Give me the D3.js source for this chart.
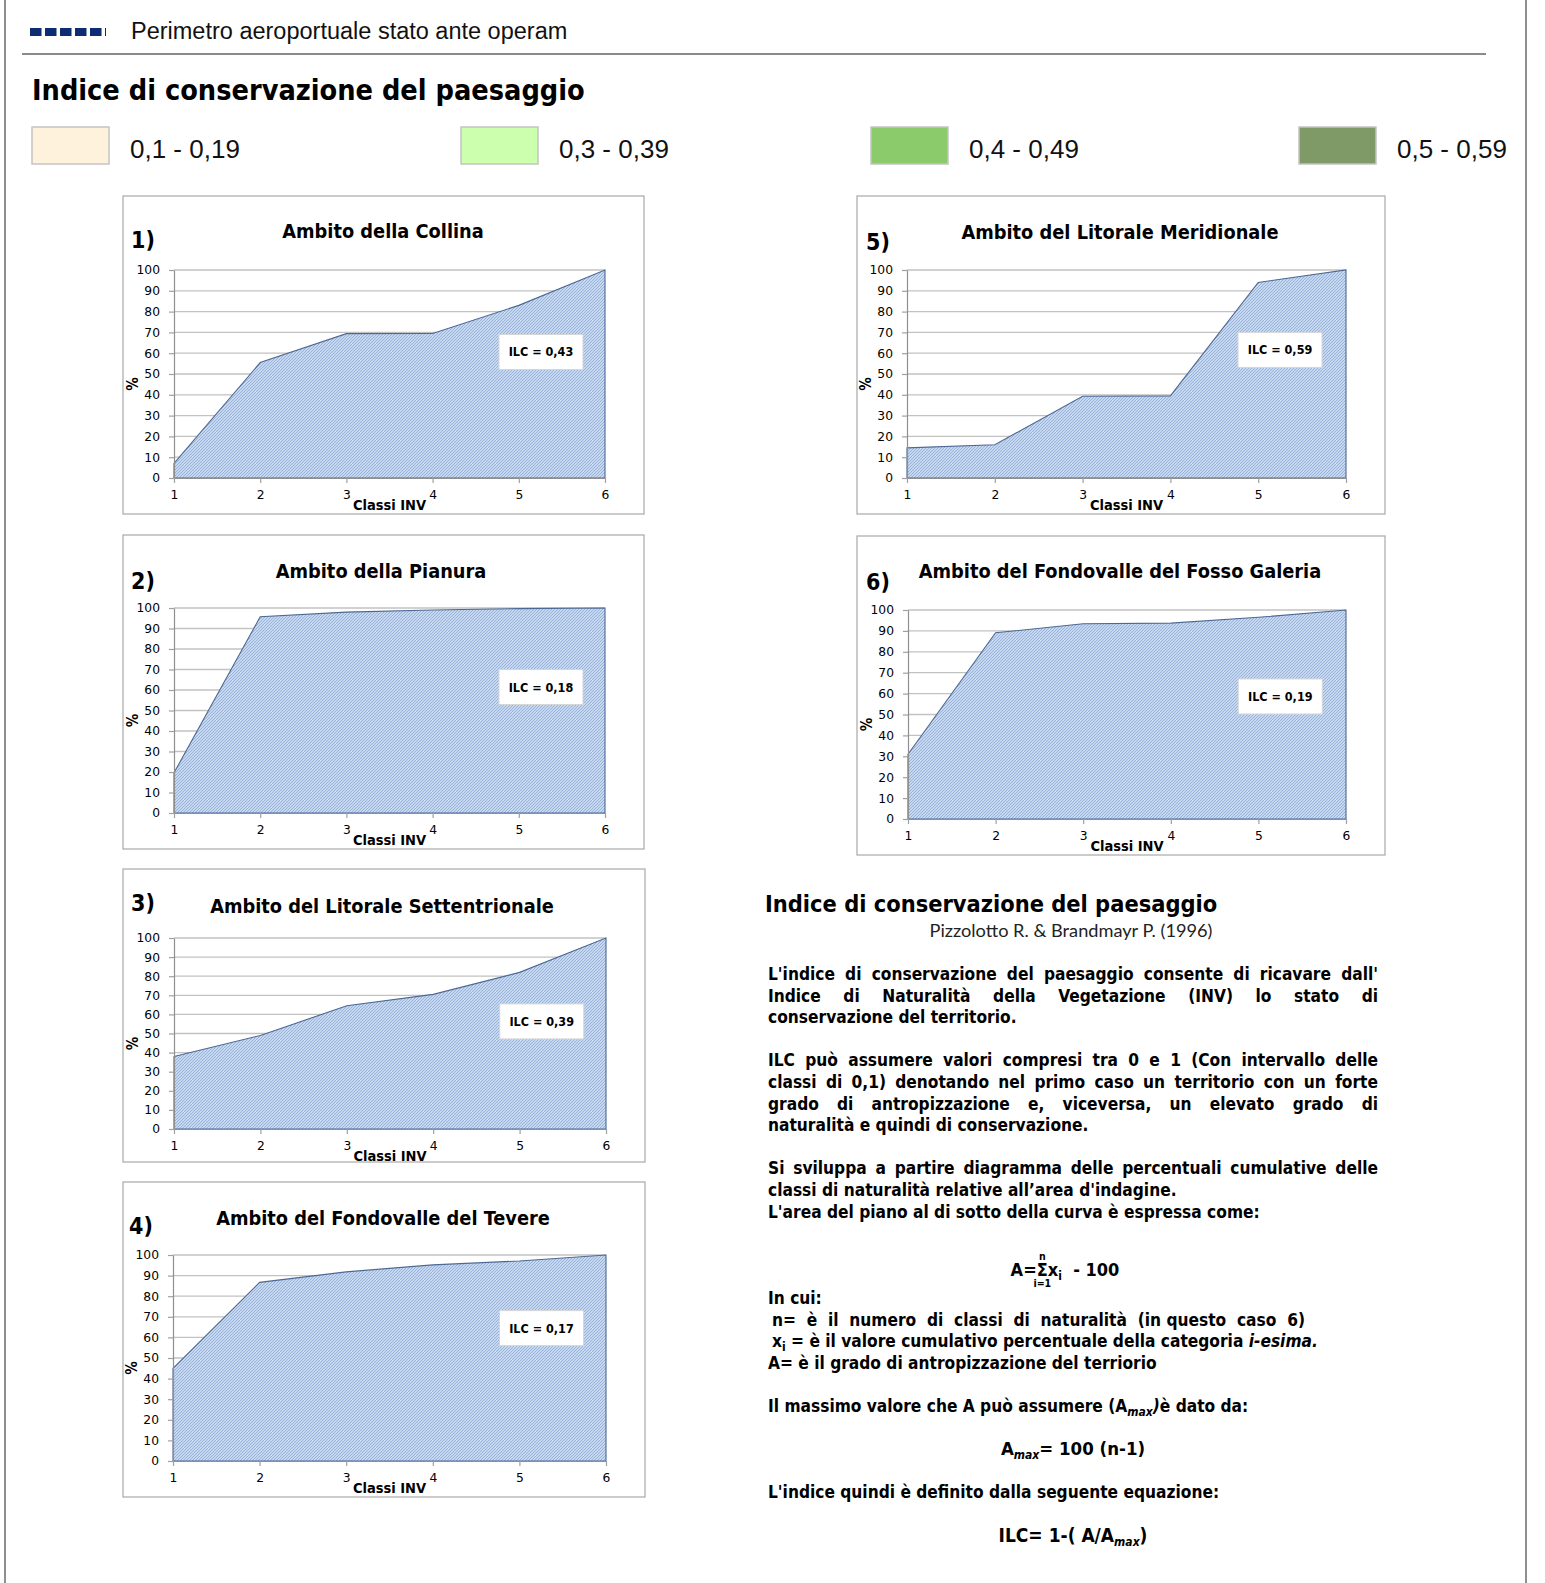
<!DOCTYPE html>
<html>
<head>
<meta charset="utf-8">
<script src="https://cdn.jsdelivr.net/npm/d3@7"></script>
<style>
body{margin:0;background:#fff;}
.cond{font-family:"DejaVu Sans Condensed","DejaVu Sans",sans-serif;font-stretch:condensed;}
</style>
</head>
<body>
<div id="page"></div>
<script>
const W = 1545, H = 1583;

// ---- data ----
const classi = [1, 2, 3, 4, 5, 6];
const yTicks = [0, 10, 20, 30, 40, 50, 60, 70, 80, 90, 100];

const legendLabels = ["0,1 - 0,19", "0,3 - 0,39", "0,4 - 0,49", "0,5 - 0,59"];
const legendColors = ["#fff2dc", "#ccffae", "#8bcb6c", "#7f9a66"];

const chartNumbers = ["1)", "2)", "3)", "4)", "5)", "6)"];
const chartTitles = [
    "Ambito della Collina",
    "Ambito della Pianura",
    "Ambito del Litorale Settentrionale",
    "Ambito del Fondovalle del Tevere",
    "Ambito del Litorale Meridionale",
    "Ambito del Fondovalle del Fosso Galeria"
];
const ilcLabels = ["0,43", "0,18", "0,39", "0,17", "0,59", "0,19"];

// cumulative % per classe INV
const collina = [7, 55.5, 69.4, 69.5, 83, 100];
const pianura = [19.6, 95.7, 98, 99, 99.7, 100];
const litoraleSett = [38, 49, 64.5, 70.5, 82, 100];
const fondovalleTevere = [45, 86.7, 91.8, 95.2, 97.1, 100];
const litoraleMerid = [14.5, 16, 39.3, 39.5, 94, 100];
const fossoGaleria = [31, 89.1, 93.4, 93.7, 96.5, 100];

const par1 = [
    "L'indice di conservazione del  paesaggio consente di ricavare dall'",
    "Indice di Naturalità della Vegetazione (INV)  lo stato di",
    "conservazione del territorio."
];
const par2 = [
    "ILC può assumere valori compresi tra 0 e 1 (Con intervallo delle",
    "classi di 0,1) denotando nel primo caso un territorio con un forte",
    "grado di antropizzazione e, viceversa, un elevato grado di",
    "naturalità e quindi di conservazione."
];
const par3 = [
    "Si sviluppa a partire diagramma delle percentuali cumulative  delle",
    "classi di naturalità relative all\u2019area d'indagine.",
    "L'area del piano al di sotto della curva è espressa come:"
];

const series = [collina, pianura, litoraleSett, fondovalleTevere, litoraleMerid, fossoGaleria];

// ---- layout ----
const layout = [
    {fx:123, fy:196, fw:521, fh:318, px0:174, px1:605, py1:270, py0:478, tX:383, tY:238, nX:131, nY:248, boxTop:69},
    {fx:123, fy:535, fw:521, fh:314, px0:174, px1:605, py1:608, py0:813, tX:381, tY:578, nX:131, nY:589, boxTop:70},
    {fx:123, fy:869, fw:522, fh:293, px0:174, px1:606, py1:938, py0:1129, tX:382, tY:913, nX:131, nY:911, boxTop:65.5},
    {fx:123, fy:1182, fw:522, fh:315, px0:173, px1:606, py1:1255, py0:1461, tX:383, tY:1225, nX:129, nY:1234, boxTop:73},
    {fx:857, fy:196, fw:528, fh:318, px0:907, px1:1346, py1:270, py0:478, tX:1120, tY:239, nX:866, nY:250, boxTop:70},
    {fx:857, fy:536, fw:528, fh:319, px0:908, px1:1346, py1:610, py0:819, tX:1120, tY:578, nX:866, nY:590, boxTop:67}
];
const legendX = [32, 461, 871, 1299];

const svg = d3.select("#page").append("svg")
    .attr("width", W).attr("height", H)
    .style("font-family", "'DejaVu Sans', sans-serif");

const defs = svg.append("defs");
const pat = defs.append("pattern").attr("id", "hatch")
    .attr("patternUnits", "userSpaceOnUse").attr("width", 3).attr("height", 3);
pat.append("rect").attr("width", 3).attr("height", 3).attr("fill", "#c6d8f0");
pat.append("path").attr("d", "M-1,1 L1,-1 M0,3 L3,0 M2,4 L4,2")
    .attr("stroke", "#88a6d2").attr("stroke-width", 0.75);

// page frame
svg.append("line").attr("x1", 5).attr("x2", 5).attr("y1", 0).attr("y2", H)
    .attr("stroke", "#6a6a6a").attr("stroke-width", 1.5);
svg.append("line").attr("x1", 1526).attr("x2", 1526).attr("y1", 0).attr("y2", H)
    .attr("stroke", "#6a6a6a").attr("stroke-width", 1.5);
svg.append("line").attr("x1", 22).attr("x2", 1486).attr("y1", 54).attr("y2", 54)
    .attr("stroke", "#8a8a8a").attr("stroke-width", 2);

// top legend
svg.append("line").attr("x1", 30).attr("x2", 106).attr("y1", 32).attr("y2", 32)
    .attr("stroke", "#0d2c73").attr("stroke-width", 8).attr("stroke-dasharray", "11.5 3.5");
svg.append("text").attr("x", 131).attr("y", 39)
    .style("font-family", "'Liberation Sans', Arial, sans-serif").style("font-size", "23.5px")
    .attr("fill", "#111").text("Perimetro aeroportuale stato ante operam");

svg.append("text").attr("class", "cond").attr("x", 32).attr("y", 100)
    .style("font-size", "28.6px").style("font-weight", "bold").attr("fill", "#000")
    .text("Indice di conservazione del paesaggio");

const leg = svg.append("g");
legendLabels.forEach((lab, i) => {
    leg.append("rect").attr("x", legendX[i]).attr("y", 127).attr("width", 77).attr("height", 37)
        .attr("fill", legendColors[i]).attr("stroke", "#c4c4c4").attr("stroke-width", 1.5);
    leg.append("text").attr("x", legendX[i] + 98).attr("y", 158)
        .style("font-family", "'Liberation Sans', Arial, sans-serif").style("font-size", "26px")
        .attr("fill", "#111").text(lab);
});

// ---- charts ----
function drawChart(i){
    const L = layout[i];
    const data = classi.map((c, k) => ({c: c, v: series[i][k]}));
    const g = svg.append("g").attr("class", "chart-" + i);

    const x = d3.scaleLinear().domain([1, 6]).range([L.px0, L.px1]);
    const y = d3.scaleLinear().domain([0, 100]).range([L.py0, L.py1]);

    g.append("rect").attr("x", L.fx).attr("y", L.fy).attr("width", L.fw).attr("height", L.fh)
        .attr("fill", "#fff").attr("stroke", "#a8a8a8").attr("stroke-width", 1.2);

    g.selectAll(".grid").data(yTicks.filter(d => d > 0)).join("line")
        .attr("class", "grid")
        .attr("x1", L.px0).attr("x2", L.px1)
        .attr("y1", d => y(d)).attr("y2", d => y(d))
        .attr("stroke", "#c2c2c2").attr("stroke-width", 1.3);

    const area = d3.area().x(d => x(d.c)).y0(y(0)).y1(d => y(d.v));
    g.append("path").datum(data).attr("d", area)
        .attr("fill", "url(#hatch)").attr("stroke", "#4c6893").attr("stroke-width", 1.1);

    const yAxis = g.append("g").attr("transform", `translate(${L.px0},0)`)
        .call(d3.axisLeft(y).tickValues(yTicks).tickSize(5).tickSizeOuter(0).tickPadding(9));
    const xAxis = g.append("g").attr("transform", `translate(0,${L.py0})`)
        .call(d3.axisBottom(x).tickValues(classi).tickSize(5).tickSizeOuter(0).tickPadding(7).tickFormat(d3.format("d")));
    [yAxis, xAxis].forEach(a => {
        a.select(".domain").attr("stroke", "#8f8f8f").attr("stroke-width", 1.2);
        a.selectAll(".tick line").attr("stroke", "#a0a0a0").attr("stroke-width", 1.2);
        a.selectAll(".tick text").attr("fill", "#000")
            .style("font-family", "'DejaVu Sans', sans-serif").style("font-size", "12.3px");
    });

    g.append("text").attr("class", "cond").attr("x", x(3.5)).attr("y", L.py0 + 32)
        .attr("text-anchor", "middle").style("font-size", "14.5px").style("font-weight", "bold")
        .text("Classi INV");
    g.append("text").attr("class", "cond")
        .attr("transform", `translate(${L.px0 - 36},${(L.py0 + L.py1) / 2 + 10}) rotate(-90)`)
        .attr("text-anchor", "middle").style("font-size", "15px").style("font-weight", "bold")
        .text("%");

    g.append("text").attr("class", "cond").attr("x", L.tX).attr("y", L.tY)
        .attr("text-anchor", "middle").style("font-size", "19.8px").style("font-weight", "bold")
        .text(chartTitles[i]);
    g.append("text").attr("class", "cond").attr("x", L.nX).attr("y", L.nY)
        .style("font-size", "23px").style("font-weight", "bold")
        .text(chartNumbers[i]);

    const bx = x(4.77), by = y(L.boxTop);
    g.append("rect").attr("x", bx).attr("y", by).attr("width", 84).attr("height", 35)
        .attr("fill", "#fff").attr("stroke", "#d6d6d6").attr("stroke-width", 1);
    g.append("text").attr("class", "cond").attr("x", bx + 42).attr("y", by + 22)
        .attr("text-anchor", "middle").style("font-size", "12.5px").style("font-weight", "bold")
        .text("ILC = " + ilcLabels[i]);
}
series.forEach((s, i) => drawChart(i));

// ---- explanatory text ----
const tb = svg.append("g").attr("class", "cond").style("font-weight", "bold").attr("fill", "#000");
const tx0 = 768, tx1 = 1378, ty0 = 980, lh = 21.6, cx = 1073, fs = "17.2px";

tb.append("text").attr("x", 765).attr("y", 912).style("font-size", "23.4px")
    .text("Indice di conservazione del paesaggio");
tb.append("text").attr("x", 1071).attr("y", 937).attr("text-anchor", "middle")
    .style("font-family", "Lato, sans-serif").style("font-weight", "normal").style("font-size", "18.2px")
    .attr("fill", "#222").text("Pizzolotto R. & Brandmayr P. (1996)");

function line(str, k, justify){
    const t = tb.append("text").attr("y", ty0 + k * lh).style("font-size", fs);
    if (!justify){
        t.attr("x", tx0).text(str);
        return t;
    }
    const words = str.split(/\s+/);
    const spans = words.map(w => t.append("tspan").text(w));
    const widths = spans.map(s => s.node().getComputedTextLength());
    const gap = (tx1 - tx0 - d3.sum(widths)) / (words.length - 1);
    let px = tx0;
    spans.forEach((s, j) => { s.attr("x", px); px += widths[j] + gap; });
    return t;
}
par1.forEach((s, j) => line(s, j, j < par1.length - 1));
par2.forEach((s, j) => line(s, 4 + j, j < par2.length - 1));
par3.forEach((s, j) => line(s, 9 + j, j === 0));

function sub(t, str, italic){
    t.append("tspan").attr("dy", 4).style("font-size", "12px")
        .style("font-style", italic ? "italic" : "normal").text(str);
}
function back(t, str, italic){
    t.append("tspan").attr("dy", -4).style("font-style", italic ? "italic" : "normal").text(str);
}

// A = sum x_i - 100
const yA = ty0 + 13.7 * lh;
const fA = tb.append("text").attr("x", cx - 8).attr("y", yA).attr("text-anchor", "middle").style("font-size", "18px");
fA.append("tspan").text("A=");
fA.append("tspan").text("\u03A3");
fA.append("tspan").text("x");
sub(fA, "i");
back(fA, "\u00a0 - 100");
const sig = fA.node().getExtentOfChar(2);
tb.append("text").attr("x", sig.x + sig.width / 2).attr("y", yA - 16).attr("text-anchor", "middle")
    .style("font-size", "10.5px").text("n");
tb.append("text").attr("x", sig.x + sig.width / 2).attr("y", yA + 11).attr("text-anchor", "middle")
    .style("font-size", "10.5px").text("i=1");

line("In cui:", 15, false);
line("n=  è  il  numero  di  classi  di  naturalità  (in questo  caso  6)", 16, false).attr("x", tx0 + 4).style("white-space", "pre");
const lx = tb.append("text").attr("x", tx0 + 4).attr("y", ty0 + 17 * lh).style("font-size", fs);
lx.append("tspan").text("x");
sub(lx, "i");
back(lx, " = è  il  valore cumulativo percentuale della categoria ");
lx.append("tspan").style("font-style", "italic").text("i-esima.");
line("A=  è il grado di antropizzazione del terriorio", 18, false);

const lm = tb.append("text").attr("x", tx0).attr("y", ty0 + 20 * lh).style("font-size", fs);
lm.append("tspan").text("Il massimo valore che A può assumere (A");
sub(lm, "max", true);
back(lm, ")", true);
lm.append("tspan").text("è dato da:");

const fM = tb.append("text").attr("x", cx).attr("y", ty0 + 22 * lh).attr("text-anchor", "middle").style("font-size", "18.5px");
fM.append("tspan").text("A");
sub(fM, "max", true);
back(fM, "= 100 (n-1)");

line("L'indice quindi è definito dalla seguente equazione:", 24, false);

const fI = tb.append("text").attr("x", cx).attr("y", ty0 + 26 * lh).attr("text-anchor", "middle").style("font-size", "19px");
fI.append("tspan").text("ILC= 1-( A/A");
sub(fI, "max", true);
back(fI, ")");
</script>
</body>
</html>
